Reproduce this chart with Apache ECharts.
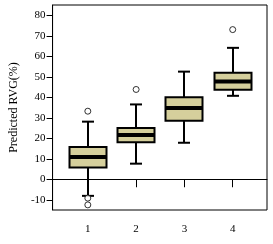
<!DOCTYPE html>
<html>
<head>
<meta charset="utf-8">
<script src="https://cdn.jsdelivr.net/npm/echarts@6/dist/echarts.min.js"></script>
<style>
  html, body { margin: 0; padding: 0; background: #fff; }
  #chart { width: 273px; height: 244px; }
</style>
</head>
<body>
<div id="chart"></div>
<script>
// groups on the x axis
let groups = [1, 2, 3, 4];
// box stats: min, Q1, median, Q3, max
let whiskerLow = [-8.1, 7.6, 17.8, 40.7];
let q1 = [5.7, 18.0, 28.5, 43.6];
let median = [10.8, 21.6, 34.7, 47.7];
let q3 = [15.7, 25.0, 40.0, 51.9];
let whiskerHigh = [28.1, 36.5, 52.5, 64.1];
// outliers as [group, value]
let outliers = [[1, 33.2], [1, -9.2], [1, -12.5], [2, 43.8], [4, 73.0]];
let yTicks = [-10, 0, 10, 20, 30, 40, 50, 60, 70, 80];

let boxData = groups.map(function (g, i) {
  return [g, whiskerLow[i], q1[i], median[i], q3[i], whiskerHigh[i]];
});

let chart = echarts.init(document.getElementById("chart"));
let font = "Liberation Serif";

function renderBox(params, api) {
  let x = api.value(0);
  let pLow = api.coord([x, api.value(1)]);
  let pQ1 = api.coord([x, api.value(2)]);
  let pMed = api.coord([x, api.value(3)]);
  let pQ3 = api.coord([x, api.value(4)]);
  let pHigh = api.coord([x, api.value(5)]);
  let half = 18.5, cap = 6;
  let cx = Math.round(pMed[0]);
  let line = { stroke: "#000", lineWidth: 2 };
  return {
    type: "group",
    children: [
      { type: "line", shape: { x1: cx, y1: pQ3[1], x2: cx, y2: pHigh[1] }, style: line },
      { type: "line", shape: { x1: cx - cap, y1: pHigh[1], x2: cx + cap, y2: pHigh[1] }, style: line },
      { type: "line", shape: { x1: cx, y1: pQ1[1], x2: cx, y2: pLow[1] }, style: line },
      { type: "line", shape: { x1: cx - cap, y1: pLow[1], x2: cx + cap, y2: pLow[1] }, style: line },
      {
        type: "rect",
        shape: { x: cx - half, y: pQ3[1], width: half * 2, height: pQ1[1] - pQ3[1] },
        style: { fill: "#d5cf9c", stroke: "#000", lineWidth: 2 }
      },
      { type: "line", shape: { x1: cx - half, y1: pMed[1], x2: cx + half, y2: pMed[1] }, style: { stroke: "#000", lineWidth: 4 } }
    ]
  };
}

let option = {
  animation: false,
  grid: {
    left: 45, right: 6, top: 5, bottom: 34,
    show: true, borderColor: "#000", borderWidth: 1
  },
  xAxis: {
    type: "value",
    min: 0.27,
    max: 4.71,
    axisLine: { show: true, lineStyle: { color: "#000" } },
    axisTick: { show: true, length: 8, customValues: groups, lineStyle: { color: "#000" } },
    axisLabel: { customValues: groups, color: "#000", fontFamily: font, fontSize: 11, margin: 14 },
    splitLine: { show: false }
  },
  yAxis: {
    type: "value",
    min: -15,
    max: 85,
    name: "Predicted RVG(%)",
    nameLocation: "middle",
    nameGap: 28,
    nameTextStyle: { color: "#000", fontFamily: font, fontSize: 12 },
    axisLine: { show: true, lineStyle: { color: "#000" } },
    axisTick: { show: true, length: 6, customValues: yTicks, lineStyle: { color: "#000" } },
    axisLabel: { customValues: yTicks, color: "#000", fontFamily: font, fontSize: 11, margin: 7 },
    splitLine: { show: false }
  },
  series: [{
    type: "custom",
    renderItem: renderBox,
    data: boxData,
    encode: { x: 0, y: [1, 2, 3, 4, 5] }
  }, {
    type: "scatter",
    data: outliers,
    symbol: "circle",
    symbolSize: 6,
    itemStyle: { color: "#fff", borderColor: "#000", borderWidth: 1 }
  }]
};

chart.setOption(option);
</script>
</body>
</html>
